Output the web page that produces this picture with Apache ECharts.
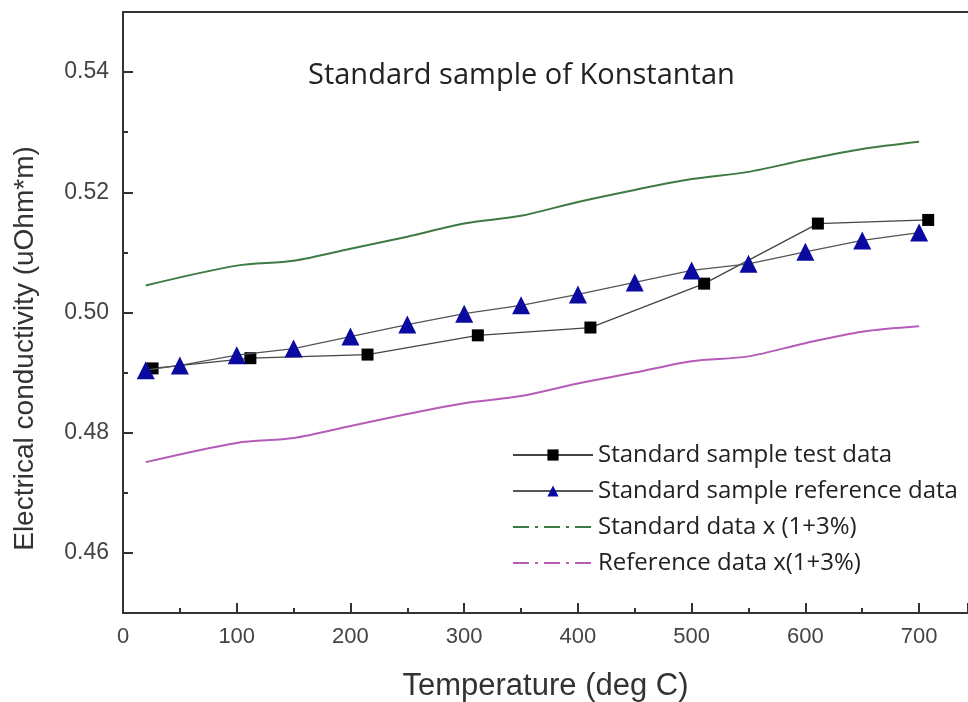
<!DOCTYPE html>
<html>
<head>
<meta charset="utf-8">
<script src="https://cdn.jsdelivr.net/npm/echarts@6/dist/echarts.min.js"></script>
<style>
  html, body { margin: 0; padding: 0; background: #fff; }
  #chart { width: 968px; height: 702px; }
</style>
</head>
<body>
<div id="chart"></div>
<script>
// 数据：值
var testX = [26, 112, 215, 312, 411, 511, 611, 708];
var testY = [0.4907, 0.4924, 0.4930, 0.4962, 0.4975, 0.5048, 0.5148, 0.5154];

var refX = [20, 50, 100, 150, 200, 250, 300, 350, 400, 450, 500, 550, 600, 650, 700];
var refY = [0.4904, 0.4912, 0.4929, 0.4940, 0.4960, 0.4980, 0.4998, 0.5012, 0.5030,
            0.5050, 0.5070, 0.5081, 0.5101, 0.5120, 0.5133];

var bandX = [20, 100, 150, 200, 250, 300, 350, 400, 450, 500, 550, 600, 650, 700];
var upperY = [0.5045, 0.5078, 0.5086, 0.5106, 0.5126, 0.5148, 0.5161, 0.5184, 0.5204,
              0.5222, 0.5234, 0.5254, 0.5272, 0.5284];
var lowerY = [0.4751, 0.4783, 0.4791, 0.4811, 0.4831, 0.4849, 0.4861, 0.4882, 0.4900,
              0.4919, 0.4927, 0.4949, 0.4968, 0.4977];

// y轴刻度
var yMajor = [0.46, 0.48, 0.50, 0.52, 0.54];
var yMinor = [0.47, 0.49, 0.51, 0.53];

var names = ['Standard sample test data', 'Standard sample reference data',
             'Standard data x (1+3%)', 'Reference data x(1+3%)'];

function pairs(xs, ys) {
    return xs.map(function (x, i) { return [x, ys[i]]; });
}

var axisColor = '#333';
var chart = echarts.init(document.getElementById('chart'));

var option = {
    animation: false,
    backgroundColor: '#fff',
    title: {
        text: 'Standard sample of Konstantan',
        left: 303,
        top: 56,
        textStyle: { fontFamily: 'Open Sans', fontSize: 29, fontWeight: 'normal', color: '#222' }
    },
    grid: { left: 123, right: 0, top: 12, bottom: 89, outerBoundsMode: 'none' },
    legend: {
        orient: 'vertical',
        left: 507,
        top: 438,
        itemWidth: 80,
        itemHeight: 14,
        itemGap: 12,
        textStyle: { fontFamily: 'Open Sans', fontSize: 24, color: '#222' },
        data: [
            { name: names[0] },
            { name: names[1] },
            { name: names[2], lineStyle: { type: [16, 6, 3, 6] }, itemStyle: { opacity: 0 } },
            { name: names[3], lineStyle: { type: [16, 6, 3, 6] }, itemStyle: { opacity: 0 } }
        ]
    },
    xAxis: [{
        type: 'value',
        min: 0,
        max: 743,
        interval: 100,
        name: 'Temperature (deg C)',
        nameLocation: 'middle',
        nameGap: 58,
        nameTextStyle: { fontFamily: 'Liberation Sans', fontSize: 31, color: '#333' },
        axisLine: { show: true, lineStyle: { color: axisColor, width: 2 } },
        axisTick: { inside: true, length: 10, lineStyle: { color: axisColor, width: 2 } },
        minorTick: { show: true, splitNumber: 2, length: 5, lineStyle: { color: axisColor, width: 2 } },
        axisLabel: { fontFamily: 'Liberation Sans', fontSize: 22, color: '#444', margin: 13,
            formatter: function (v) { return v > 700 ? '' : v; } },
        splitLine: { show: false }
    }, {
        type: 'value',
        position: 'top',
        min: 0,
        max: 743,
        axisLine: { show: true, lineStyle: { color: axisColor, width: 2 } },
        axisTick: { show: false },
        axisLabel: { show: false },
        splitLine: { show: false }
    }],
    yAxis: [{
        type: 'value',
        min: 0.45,
        max: 0.55,
        name: 'Electrical conductivity (uOhm*m)',
        nameLocation: 'middle',
        nameGap: 84,
        nameTextStyle: { fontFamily: 'Liberation Sans', fontSize: 28, color: '#333', padding: [0, 72, 0, 0] },
        axisLine: { show: true, lineStyle: { color: axisColor, width: 2 } },
        axisTick: { inside: true, length: 10, customValues: yMajor, lineStyle: { color: axisColor, width: 2 } },
        axisLabel: { fontFamily: 'Liberation Sans', fontSize: 23, color: '#444', margin: 14,
            customValues: yMajor,
            formatter: function (v) { return v.toFixed(2); } },
        splitLine: { show: false }
    }, {
        type: 'value',
        position: 'left',
        min: 0.45,
        max: 0.55,
        axisLine: { show: false },
        axisTick: { show: true, inside: true, length: 5, customValues: yMinor, lineStyle: { color: axisColor, width: 2 } },
        axisLabel: { show: false },
        splitLine: { show: false }
    }],
    series: [{
        name: names[0],
        type: 'line',
        data: pairs(testX, testY),
        symbol: 'rect',
        symbolSize: 12,
        itemStyle: { color: '#000' },
        lineStyle: { color: '#444', width: 1.3 },
        z: 4
    }, {
        name: names[1],
        type: 'line',
        data: pairs(refX, refY),
        symbol: 'triangle',
        symbolSize: 18,
        itemStyle: { color: '#0a0aa0' },
        lineStyle: { color: '#555', width: 1.3 },
        z: 5
    }, {
        name: names[2],
        type: 'line',
        data: pairs(bandX, upperY),
        symbol: 'none',
        smooth: 0.3,
        itemStyle: { color: '#3e7a44' },
        lineStyle: { color: '#3e7a44', width: 2 }
    }, {
        name: names[3],
        type: 'line',
        data: pairs(bandX, lowerY),
        symbol: 'none',
        smooth: 0.3,
        itemStyle: { color: '#b45cb8' },
        lineStyle: { color: '#b45cb8', width: 2 }
    }]
};

chart.setOption(option);
</script>
</body>
</html>
